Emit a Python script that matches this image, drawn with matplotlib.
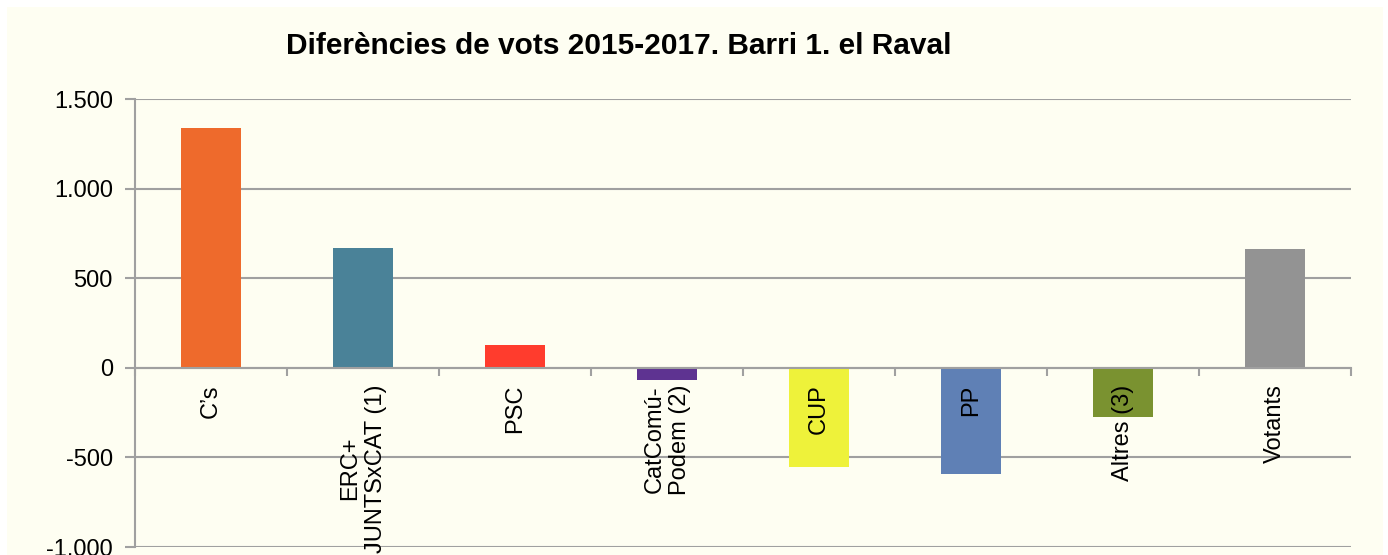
import numpy as np
import matplotlib.pyplot as plt
from matplotlib.ticker import FuncFormatter, FixedLocator
from matplotlib.patches import Rectangle

plt.rcParams['font.family'] = ['Liberation Sans', 'DejaVu Sans']

partits = ['C\u2019s', 'ERC+\nJUNTSxCAT (1)', 'PSC', 'CatComú-\nPodem (2)',
           'CUP', 'PP', 'Altres (3)', 'Votants']
diferencies = [1338, 666, 125, -70, -555, -590, -272, 662]
colors = ['#EE6A2C', '#4A8298', '#FF3C2D', '#5E3391',
          '#EEF23A', '#5F80B5', '#7A9230', '#939393']
title = 'Diferències de vots 2015-2017. Barri 1. el Raval'

fig = plt.figure(figsize=(13.88, 5.55), dpi=100)
fig.patch.set_facecolor('white')
fig.patches.append(Rectangle((7 / 1388, 0), 1376 / 1388, 548 / 555,
                             transform=fig.transFigure, facecolor='#FEFEF2',
                             edgecolor='none', zorder=-10))

ax = fig.add_axes([135 / 1388, 1 - 547 / 555, 1216 / 1388, 448 / 555])
ax.set_facecolor('none')

x = np.arange(len(partits))
ax.bar(x, diferencies, width=0.4, color=colors, zorder=2)

ax.set_xlim(-0.5, len(partits) - 0.5)
ax.set_ylim(-1000, 1500)
ax.set_yticks(np.arange(-1000, 1501, 500))
ax.yaxis.set_major_formatter(FuncFormatter(lambda v, p: f'{int(v):,}'.replace(',', '.')))
ax.tick_params(axis='y', labelsize=17, length=7, width=1.5, color='#A0A0A0', pad=9)

ax.grid(axis='y', color='#A0A0A0', linewidth=1.5, zorder=0)
ax.set_axisbelow(True)

# eix x a zero, amb marques entre categories
ax.spines['bottom'].set_position(('data', 0))
ax.spines['bottom'].set_color('#A0A0A0')
ax.spines['bottom'].set_linewidth(1.5)
ax.spines['left'].set_color('#A0A0A0')
ax.spines['left'].set_linewidth(1.5)
ax.spines['top'].set_visible(False)
ax.spines['right'].set_visible(False)
ax.xaxis.set_major_locator(FixedLocator(np.arange(-0.5, len(partits))))
ax.xaxis.set_major_formatter(FuncFormatter(lambda v, p: ''))
ax.tick_params(axis='x', length=6, width=1.5, color='#A0A0A0', direction='out')

for xi, label in zip(x, partits):
    ax.annotate(label, xy=(xi, 0), xytext=(0, -12), textcoords='offset points',
                rotation=90, ha='center', va='top', multialignment='center',
                fontsize=17, color='black', zorder=5, annotation_clip=False)

fig.text(619 / 1388, 1 - 46 / 555, title, ha='center', va='center',
         fontsize=21.5, fontweight='bold')

fig.savefig('out.png', dpi=100)
